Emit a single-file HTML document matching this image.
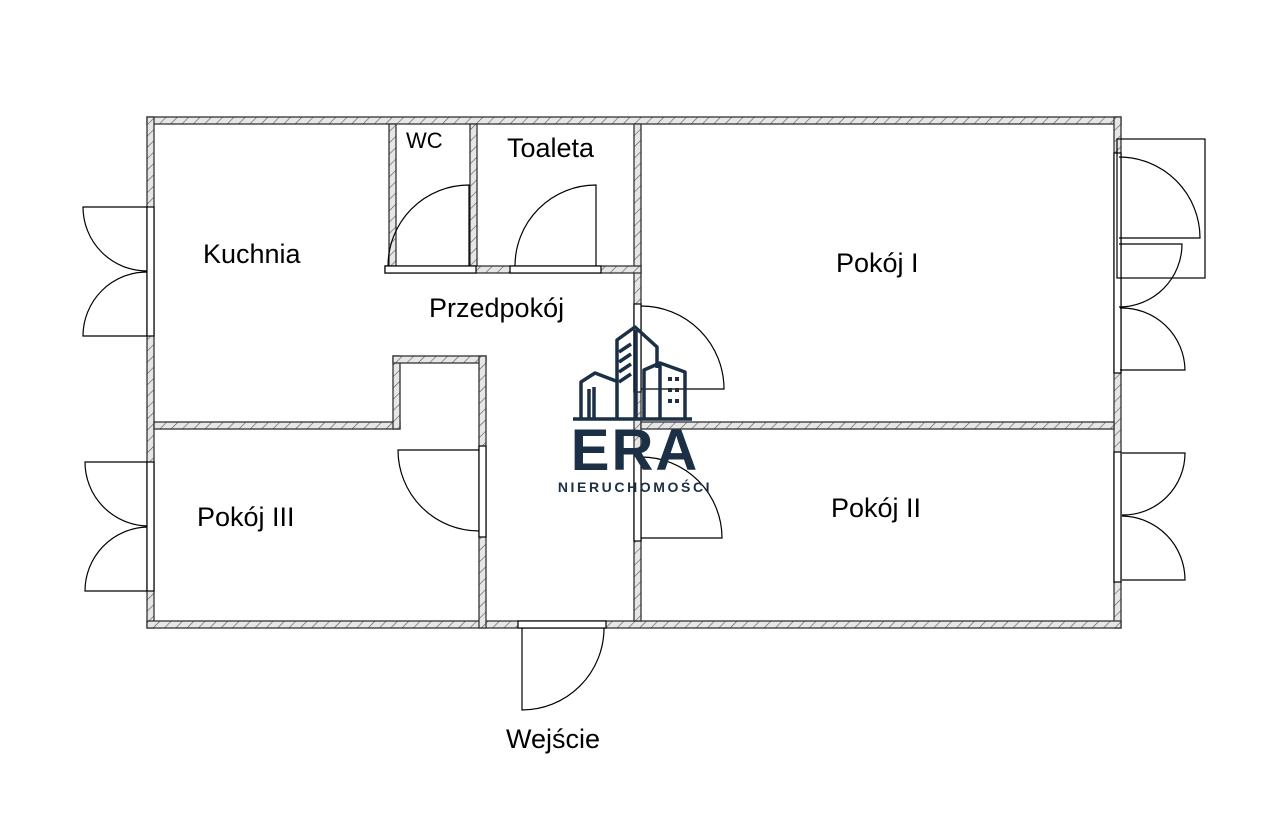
<!DOCTYPE html>
<html><head><meta charset="utf-8"><style>
html,body{margin:0;padding:0;background:#fff;}
svg{display:block;}
text{font-family:"Liberation Sans","DejaVu Sans",sans-serif;fill:#000;}
</style></head><body>
<svg width="1271" height="821" viewBox="0 0 1271 821" xmlns="http://www.w3.org/2000/svg">
<defs>
<pattern id="h" patternUnits="userSpaceOnUse" width="8" height="8" patternTransform="rotate(45)">
<rect width="8" height="8" fill="#e6e6e6"/><line x1="0" y1="0" x2="0" y2="8" stroke="#555" stroke-width="1.2"/>
</pattern>
</defs>
<g fill="url(#h)" stroke="#333" stroke-width="1.3">
<rect x="147" y="117" width="974" height="7"/>
<rect x="147" y="117" width="7" height="511"/>
<rect x="1114" y="117" width="7" height="511"/>
<rect x="147" y="621" width="974" height="7"/>
<rect x="389" y="124" width="7" height="144"/>
<rect x="470" y="124" width="7" height="144"/>
<rect x="634" y="124" width="7" height="497"/>
<rect x="385" y="266" width="256" height="7"/>
<rect x="154" y="422" width="246" height="7"/>
<rect x="393" y="356" width="7" height="73"/>
<rect x="393" y="356" width="93" height="7"/>
<rect x="479" y="356" width="7" height="272"/>
<rect x="641" y="422" width="473" height="7"/>
</g>
<g fill="#fff" stroke="#000" stroke-width="1.2">
<rect x="147" y="207" width="7" height="129"/>
<rect x="147" y="462" width="7" height="129"/>
<rect x="1114" y="153" width="7" height="220"/>
<rect x="1114" y="452" width="7" height="130"/>
<rect x="385" y="266" width="91" height="7"/>
<rect x="510" y="266" width="91" height="7"/>
<rect x="634" y="304" width="7" height="88"/>
<rect x="634" y="455" width="7" height="86"/>
<rect x="479" y="446" width="7" height="91"/>
<rect x="518" y="621" width="88" height="7"/>
</g>
<g fill="none" stroke="#000" stroke-width="1.2">
<path d="M147 207 H83 A64 64 0 0 0 147 271"/>
<path d="M147 336 H83 A64 64 0 0 1 147 272"/>
<path d="M147 462 H85 A64 64 0 0 0 147 526"/>
<path d="M147 591 H85 A64 64 0 0 1 147 527"/>
<rect x="1117" y="139" width="88" height="139"/>
<path d="M1119 238 H1200 A81 81 0 0 0 1119 157"/>
<path d="M1119 244 H1182 A63 63 0 0 1 1119 307"/>
<path d="M1120 370 H1185 A63 63 0 0 0 1120 308"/>
<path d="M1122 453 H1185 A62 62 0 0 1 1122 515"/>
<path d="M1122 580 H1185 A64 64 0 0 0 1122 516"/>
<path d="M469 266 V185 A81 81 0 0 0 388 266"/>
<path d="M596 266 V185 A81 81 0 0 0 515 266"/>
<path d="M641 389 H724 A83 83 0 0 0 641 306"/>
<path d="M641 538 H722 A81 81 0 0 0 641 457"/>
<path d="M479 450 H398 A81 81 0 0 0 479 531"/>
<path d="M522 628 V710 A82 82 0 0 0 604 628"/>
</g>
<text x="203" y="263" font-size="27">Kuchnia</text>
<text x="406" y="148" font-size="22">WC</text>
<text x="507" y="157" font-size="27">Toaleta</text>
<text x="429" y="317" font-size="27">Przedpokój</text>
<text x="836" y="272" font-size="27">Pokój I</text>
<text x="197" y="526" font-size="27">Pokój III</text>
<text x="831" y="517" font-size="27">Pokój II</text>
<text x="506" y="748" font-size="27">Wejście</text>
<g fill="none" stroke="#1b2f45" stroke-width="3.5" stroke-linejoin="round">
<line x1="573" y1="419" x2="692" y2="419"/>
<path d="M581 419 V382 L595 373 L616 381"/>
<line x1="589" y1="419" x2="589" y2="389"/>
<line x1="594" y1="419" x2="594" y2="387"/>
<path d="M617 419 V340 L635 327 L657 347 V368"/>
<line x1="636" y1="330" x2="636" y2="419"/>
<path d="M619 352 L631 344 M619 362 L631 354 M619 372 L631 364 M619 382 L631 374"/>
<path d="M644 419 V370 L660 363 L685 372 V419"/>
<line x1="660" y1="365" x2="660" y2="419"/>
</g>
<g fill="#1b2f45">
<rect x="668" y="377" width="4" height="4"/><rect x="675" y="377" width="4" height="4"/>
<rect x="668" y="388" width="4" height="4"/><rect x="675" y="388" width="4" height="4"/>
<rect x="668" y="399" width="4" height="4"/><rect x="675" y="399" width="4" height="4"/>
</g>
<text x="635" y="470" font-size="58" font-weight="bold" text-anchor="middle" style="fill:#1b2f45" letter-spacing="2">ERA</text>
<text x="635" y="492" font-size="14" font-weight="bold" text-anchor="middle" style="fill:#1b2f45" letter-spacing="2.6">NIERUCHOMOŚCI</text>
</svg>
</body></html>
